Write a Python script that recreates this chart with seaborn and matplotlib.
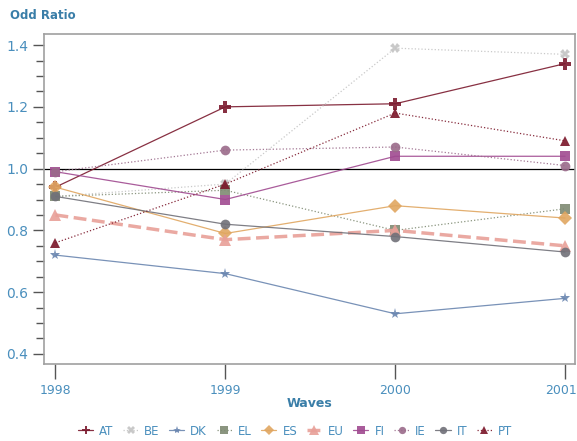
import pandas as pd
import matplotlib.pyplot as plt
import matplotlib.transforms as mtransforms
from matplotlib.ticker import MultipleLocator
import seaborn as sns

# Odds ratios by wave
waves = [1998, 1999, 2000, 2001]
countries = ['AT', 'BE', 'DK', 'EL', 'ES', 'EU', 'FI', 'IE', 'IT', 'PT']
at = [0.94, 1.20, 1.21, 1.34]
be = [0.91, 0.95, 1.39, 1.37]
dk = [0.72, 0.66, 0.53, 0.58]
el = [0.91, 0.93, 0.80, 0.87]
es = [0.94, 0.79, 0.88, 0.84]
eu = [0.85, 0.77, 0.80, 0.75]
fi = [0.99, 0.90, 1.04, 1.04]
ie = [0.99, 1.06, 1.07, 1.01]
it = [0.91, 0.82, 0.78, 0.73]
pt = [0.76, 0.95, 1.18, 1.09]

values = [at, be, dk, el, es, eu, fi, ie, it, pt]
data = pd.DataFrame({
    'Wave': waves * len(countries),
    'Country': [c for c in countries for _ in waves],
    'OR': [v for vals in values for v in vals],
})

# styles per country: colour, marker, linestyle, linewidth, markersize
styles = {
    'AT': ('#7b1a2e', 'P', '-', 0.9, 8),
    'BE': ('#c4c4c4', 'X', ':', 0.9, 7),
    'DK': ('#6a86b0', '*', '-', 0.9, 8),
    'EL': ('#7e8a72', 's', ':', 0.9, 7),
    'ES': ('#e0a660', 'D', '-', 0.9, 7),
    'EU': ('#e8a098', '^', '--', 2.5, 9),
    'FI': ('#a04a90', 's', '-', 0.9, 7),
    'IE': ('#9a6a8a', 'o', ':', 0.9, 7),
    'IT': ('#707078', 'o', '-', 0.9, 7),
    'PT': ('#7a1528', '^', ':', 0.9, 7),
}

sns.set_style('white')
fig = plt.figure(figsize=(5.77, 4.41), dpi=100)
ax = fig.add_axes([0.077, 0.175, 0.92, 0.748])

for c in countries:
    col, mk, ls, lw, ms = styles[c]
    sns.lineplot(data=data[data['Country'] == c], x='Wave', y='OR', ax=ax,
                 color=col, marker=mk, linestyle=ls, linewidth=lw,
                 markersize=ms, markeredgewidth=0, alpha=0.9, label=c)

ax.axhline(1.0, color='black', linewidth=0.9, zorder=0)

tick_col = '#4a8fbd'
ax.set_xlim(1997.935, 2001.06)
ax.set_ylim(0.368, 1.436)
ax.set_xticks(waves)
ax.set_xticklabels([str(w) for w in waves])
ax.yaxis.set_major_locator(MultipleLocator(0.2))
ax.yaxis.set_minor_locator(MultipleLocator(0.05))
ax.yaxis.set_major_formatter(plt.FuncFormatter(lambda v, p: f'{v:.1f}'))
ax.tick_params(axis='y', which='major', direction='out', length=8, width=1,
               color='#555555', labelcolor=tick_col, labelsize=10, left=True)
ax.tick_params(axis='y', which='minor', direction='out', length=6, width=1,
               color='#555555', left=True)
ax.tick_params(axis='x', direction='out', length=11, width=1,
               color='#555555', labelcolor=tick_col, labelsize=9, bottom=True)
for side in ['top', 'right', 'left', 'bottom']:
    ax.spines[side].set_color('#a0a0a0')
    ax.spines[side].set_linewidth(1.2)

# nudge the last year label so it stays inside the figure
last = ax.get_xticklabels()[-1]
last.set_transform(last.get_transform() +
                   mtransforms.ScaledTranslation(-3 / 72, 0, fig.dpi_scale_trans))

ax.set_xlabel('Waves', color='#3a7ea8', fontweight='bold', fontsize=9,
              labelpad=0)
ax.set_ylabel('')
fig.text(0.017, 0.958, 'Odd Ratio', color='#3a7ea8', fontweight='bold',
         fontsize=8.5)

ax.legend(loc='upper center', bbox_to_anchor=(0.472, -0.152), ncol=10,
          frameon=False, fontsize=8.5, labelcolor=tick_col, handlelength=1.3,
          columnspacing=0.8, handletextpad=0.5, markerscale=0.75)

fig.savefig('out.png', dpi=100)
